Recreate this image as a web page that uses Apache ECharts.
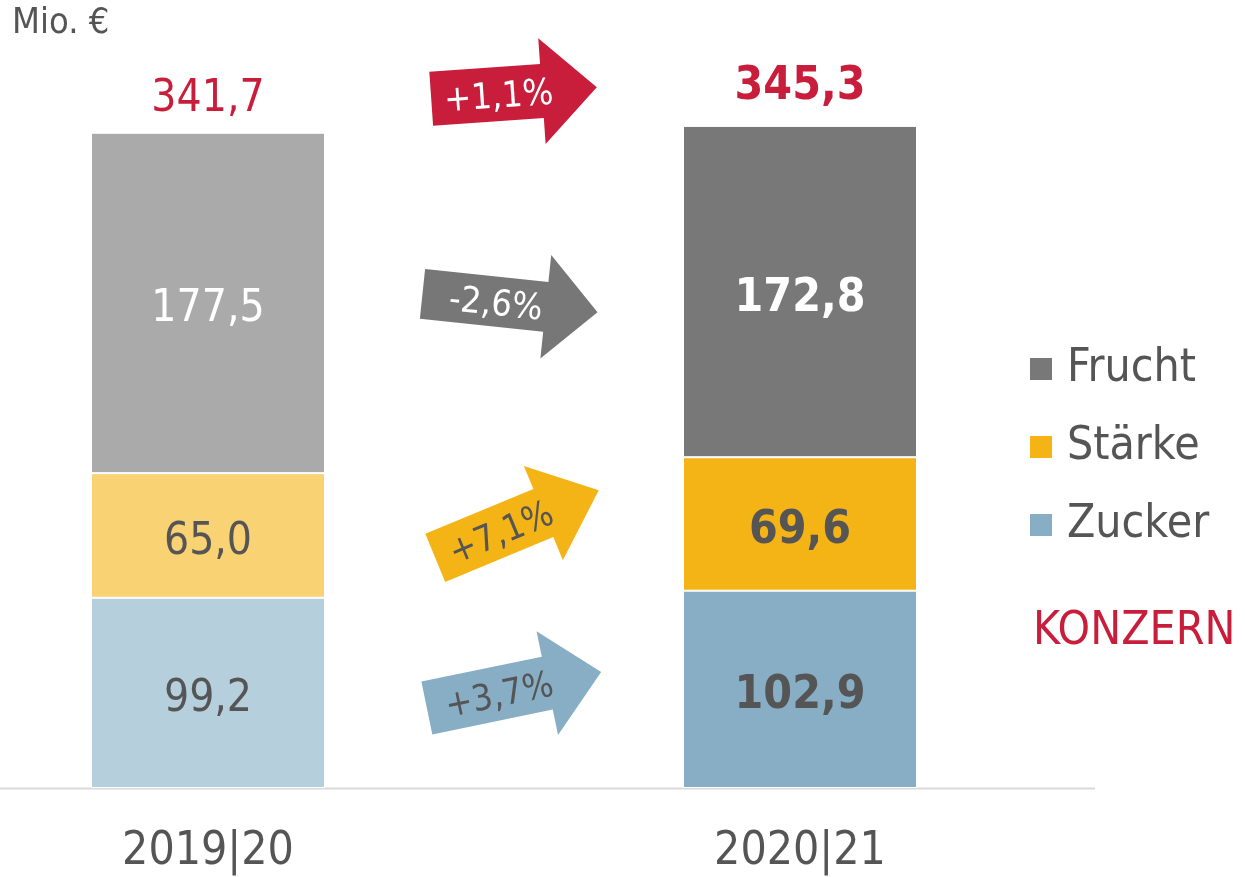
<!DOCTYPE html>
<html>
<head>
<meta charset="utf-8">
<script src="https://cdn.jsdelivr.net/npm/echarts@6/dist/echarts.min.js"></script>
<style>
  html, body { margin: 0; padding: 0; background: #fff; }
  #chart { width: 1245px; height: 877px; }
</style>
</head>
<body>
<div id="chart"></div>
<script>
// 数据
const categories = ['2019|20', '', '2020|21'];
const frucht = [177.5, '-', 172.8];
const staerke = [65.0, '-', 69.6];
const zucker = [99.2, '-', 102.9];
const totals = [341.7, '-', 345.3];
const changes = ['+1,1%', '-2,6%', '+7,1%', '+3,7%'];

const red = '#c81e3c';
const textGrey = '#555555';
const narrowFont = "'DejaVu Sans Condensed', 'Liberation Sans Narrow', sans-serif";

function fmt(v) {
    return v.toFixed(1).replace('.', ',');
}

// 构造每个柱子的数据项, 左边浅色, 右边深色粗体
function makeData(values, lightColor, darkColor, labelColor) {
    return values.map((v, i) => {
        if (v === '-') return '-';
        const isNew = i === values.length - 1;
        return {
            value: v,
            itemStyle: { color: isNew ? darkColor : lightColor },
            label: {
                color: labelColor,
                fontWeight: isNew ? 'bold' : 'normal',
                fontSize: isNew ? 46 : 44
            }
        };
    });
}

function barSeries(name, values, light, dark, labelColor) {
    return {
        name: name,
        type: 'bar',
        stack: 'total',
        barWidth: 234,
        color: dark,
        data: makeData(values, light, dark, labelColor),
        itemStyle: { borderColor: '#fff', borderWidth: 1 },
        label: {
            show: true,
            position: 'inside',
            offset: [0, 7],
            fontFamily: narrowFont,
            fontSize: 44,
            formatter: p => fmt(p.value)
        }
    };
}

// 箭头
function arrow(cx, cy, deg, L, b, h, H, color, text, textColor) {
    const x0 = -L / 2, x1 = L / 2 - H, x2 = L / 2;
    return {
        type: 'group',
        x: cx,
        y: cy,
        rotation: deg * Math.PI / 180,
        children: [
            {
                type: 'polygon',
                shape: { points: [[x0, -b], [x1, -b], [x1, -h], [x2, 0], [x1, h], [x1, b], [x0, b]] },
                style: { fill: color }
            },
            {
                type: 'text',
                x: -H / 2 + 12,
                y: 4,
                style: {
                    text: text,
                    fill: textColor,
                    fontSize: 36,
                    fontFamily: narrowFont,
                    align: 'center',
                    verticalAlign: 'middle',
                    textAlign: 'center',
                    textVerticalAlign: 'middle'
                }
            }
        ]
    };
}

const dom = document.getElementById('chart');
const myChart = echarts.init(dom);

const option = {
    backgroundColor: '#fff',
    animation: false,
    grid: { left: 60, width: 888, top: 21, bottom: 89 },
    legend: {
        data: ['Frucht', 'Stärke', 'Zucker'],
        orient: 'vertical',
        left: 1028,
        top: 345,
        padding: 0,
        itemWidth: 24,
        itemHeight: 24,
        itemGap: 30,
        icon: 'rect',
        textStyle: {
            fontFamily: narrowFont,
            fontSize: 46,
            lineHeight: 48,
            color: textGrey,
            padding: [0, 0, 0, 9]
        }
    },
    xAxis: {
        type: 'category',
        data: categories,
        axisLine: { show: false },
        axisTick: { show: false },
        axisLabel: {
            fontFamily: narrowFont,
            fontSize: 46,
            color: textGrey,
            margin: 41
        }
    },
    yAxis: {
        type: 'value',
        min: 0,
        max: 400,
        show: false
    },
    series: [
        barSeries('Zucker', zucker, '#b5cfdd', '#87aec5', textGrey),
        barSeries('Stärke', staerke, '#f9d273', '#f5b416', textGrey),
        barSeries('Frucht', frucht, '#aaaaaa', '#787878', '#ffffff'),
        {
            name: 'Gesamt',
            type: 'bar',
            stack: 'total',
            barWidth: 234,
            data: totals.map((t, i) => {
                if (t === '-') return '-';
                const isNew = i === totals.length - 1;
                return {
                    value: 0,
                    label: {
                        fontWeight: isNew ? 'bold' : 'normal',
                        fontSize: isNew ? 46 : 44,
                        distance: isNew ? 16 : 11
                    }
                };
            }),
            itemStyle: { color: 'rgba(0,0,0,0)' },
            label: {
                show: true,
                position: 'top',
                fontFamily: narrowFont,
                color: red,
                formatter: p => fmt(totals[p.dataIndex])
            }
        }
    ],
    graphic: [
        {
            type: 'line',
            shape: { x1: 0, y1: 788.5, x2: 1095, y2: 788.5 },
            style: { stroke: '#d9d9d9', lineWidth: 2 }
        },
        {
            type: 'text',
            left: 12,
            top: 6,
            style: { text: 'Mio. €', fill: textGrey, fontSize: 36, fontFamily: narrowFont }
        },
        {
            type: 'text',
            left: 1033,
            top: 609,
            style: { text: 'KONZERN', fill: red, fontSize: 46, fontFamily: narrowFont }
        },
        arrow(514, 93, 4, 166, 27, 53, 55, red, changes[0], '#ffffff'),
        arrow(510, 303, -6, 176, 25, 52, 52, '#777777', changes[1], '#ffffff'),
        arrow(517, 524, 22.5, 177, 26, 51, 60, '#f5b416', changes[2], textGrey),
        arrow(514, 690, 11.7, 178, 27, 53, 55, '#87aec5', changes[3], textGrey)
    ]
};

myChart.setOption(option);

window.addEventListener('resize', function () {
    myChart.resize();
});
</script>
</body>
</html>
